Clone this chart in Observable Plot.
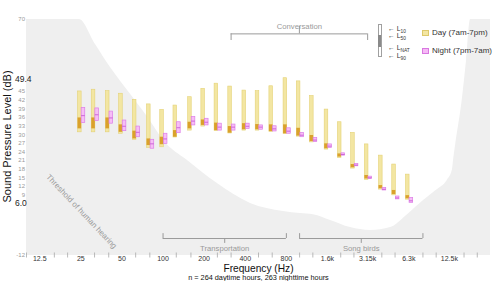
<!DOCTYPE html>
<html><head><meta charset="utf-8">
<script src="https://cdn.jsdelivr.net/npm/d3@7"></script>
<script src="https://cdn.jsdelivr.net/npm/@observablehq/plot@0.6"></script>
<style>
body{margin:0;background:#fff;font-family:"Liberation Sans",Arial,sans-serif;}
#wrap{position:relative;width:500px;height:281px;overflow:hidden;}
.lg{position:absolute;font-size:8px;color:#333;line-height:6px;white-space:nowrap;}
.ll{position:absolute;font-size:6.8px;color:#333;line-height:5px;white-space:nowrap;}
.ll sub{font-size:4.8px;vertical-align:-1.5px;line-height:0;}
.bx{position:absolute;box-sizing:border-box;}
</style></head><body><div id="wrap"></div>
<script>
// third-octave band centre frequencies (Hz)
const bands = [25, 31.5, 40, 50, 63, 80, 100, 125, 160, 200, 250, 315, 400, 500, 630, 800, 1000, 1250, 1600, 2000, 2500, 3150, 4000, 5000, 6300];
// Day (7am-7pm) levels, dB
const dayL10  = [45.0, 45.6, 45.1, 44.2, 42.1, 40.5, 38.6, 40.1, 43.0, 45.9, 47.7, 46.7, 45.3, 45.1, 46.8, 49.6, 48.5, 43.4, 38.7, 34.3, 30.6, 26.6, 22.7, 19.6, 16.1];
const dayL50  = [35.8, 35.8, 35.8, 33.4, 31.2, 28.5, 29.1, 31.4, 34.3, 35.1, 34.0, 32.8, 33.8, 33.5, 33.4, 33.4, 32.2, 29.7, 26.8, 23.3, 19.6, 15.8, 12.3, 10.6, 8.8];
const dayLNAT = [32.0, 32.0, 32.0, 30.8, 28.5, 26.2, 26.5, 29.1, 32.0, 33.2, 31.4, 30.5, 31.7, 31.7, 31.1, 30.3, 29.5, 27.6, 25.1, 22.2, 18.5, 14.6, 11.2, 9.2, 7.7];
const dayL90  = [30.8, 30.8, 30.8, 30.3, 28.2, 25.4, 25.6, 29.0, 31.4, 32.8, 31.2, 30.4, 31.4, 31.4, 30.9, 30.2, 29.3, 27.3, 24.8, 21.9, 18.2, 14.3, 10.9, 8.9, 7.4];
// Night (7pm-7am) levels, dB
const nightL10 = [39.3, 39.1, 38.0, 34.9, 32.8, 28.2, 30.3, 34.3, 36.1, 35.5, 33.8, 33.5, 33.8, 33.2, 32.9, 32.2, 30.6, 28.8, 26.6, 23.5, 19.8, 15.4, 11.5, 8.5, 8.0];
const nightL50 = [36.6, 36.9, 35.8, 32.9, 30.8, 26.8, 28.5, 32.4, 34.7, 34.3, 32.6, 32.6, 32.9, 32.6, 32.0, 31.2, 29.8, 28.1, 26.0, 23.1, 19.4, 15.0, 11.0, 8.0, 7.0];
const nightL90 = [34.0, 34.7, 33.8, 31.2, 29.1, 25.1, 26.8, 30.5, 33.2, 33.2, 31.4, 31.4, 32.0, 31.7, 31.1, 30.3, 29.1, 27.4, 25.4, 22.7, 19.0, 14.6, 10.6, 7.5, 6.3];
// threshold of human hearing
const thrFreq = [10, 24.4, 32.0, 41.2, 60.8, 81, 100.8, 151, 250, 437, 762, 1016, 1264, 1686, 2360, 3309, 4640, 6170, 8090, 10000, 12060, 13120, 13480, 13870, 15520, 16700, 17870, 25000];
const thrDb   = [70, 70, 61.3, 53.3, 42.6, 34.6, 28.0, 21.0, 13.0, 6.1, 3.3, 2.6, 2.2, 0.2, -2.3, -3.3, -2.3, 2.2, 7.1, 10.6, 14.1, 17.5, 22.0, 26.2, 41.9, 55.8, 70, 70];
// source ranges
const bracketNames = ["Conversation", "Transportation", "Song birds"];
const bracketLow   = [315, 100, 1000];
const bracketHigh  = [3150, 800, 8000];
const bracketAbove = [true, false, false];
// axes
const xMajor = [12.5, 25, 50, 100, 200, 400, 800, 1600, 3150, 6300, 12500];
const xMajorLabels = ["12.5", "25", "50", "100", "200", "400", "800", "1.6k", "3.15k", "6.3k", "12.5k"];
const xMinor = [10, 16, 20, 31.5, 40, 63, 80, 125, 160, 250, 315, 500, 630, 1000, 1250, 2000, 2500, 4000, 5000, 8000, 10000, 16000, 20000];
const yTicks = [70, 45, 42, 39, 36, 33, 30, 27, 24, 21, 18, 15, 12, 9, -12];
const yMarked = [49.4, 6.0];
const legendLabels = ["Day (7am-7pm)", "Night (7pm-7am)"];

const rows = bands.map((f, i) => ({f, d10: dayL10[i], d50: dayL50[i], dnat: dayLNAT[i], d90: dayL90[i],
  n10: nightL10[i], n50: nightL50[i], n90: nightL90[i]}));
const thr = thrFreq.map((f, i) => ({f, db: thrDb[i]}));
const brackets = bracketNames.map((name, i) => {
  const up = bracketAbove[i];
  return {name, f1: bracketLow[i], f2: bracketHigh[i], fc: Math.sqrt(bracketLow[i] * bracketHigh[i]),
    yh: up ? 65.0 : -6.1, ye: up ? 62.7 : -4.4, yc: up ? 67.6 : -7.8, yl: up ? 67.7 : -9.6};
});
const bandEnds = brackets.flatMap(b => [{f: b.f1, y1: b.yh, y2: b.ye}, {f: b.f2, y1: b.yh, y2: b.ye}, {f: b.fc, y1: b.yh, y2: b.yc}]);
const xTickRows = xMajor.map((f, i) => ({f, label: xMajorLabels[i]}));

const W = 1.8;
const chart = Plot.plot({
  width: 500, height: 281,
  marginTop: 19, marginBottom: 26, marginLeft: 26, marginRight: 10,
  style: {fontFamily: "Liberation Sans, Arial, sans-serif", background: "white"},
  x: {type: "log", domain: [10, 25000], axis: null},
  y: {domain: [-12, 70], axis: null},
  marks: [
    Plot.areaY(thr, {x: "f", y1: -12, y2: "db", fill: "#efefef", curve: "monotone-x"}),
    Plot.text(["Threshold of human hearing"], {x: 25.3, y: 3.3, rotate: 46.6, fontSize: 7.9, fill: "#9a9a9a"}),
    // brackets
    Plot.ruleY(brackets, {y: "yh", x1: "f1", x2: "f2", stroke: "#9a9a9a", strokeWidth: 1}),
    Plot.ruleX(bandEnds, {x: "f", y1: "y1", y2: "y2", stroke: "#9a9a9a", strokeWidth: 1}),
    Plot.text(brackets, {x: "fc", y: "yl", text: "name", fontSize: 7.7, fill: "#9a9a9a"}),
    // day bars
    Plot.rect(rows, {x1: "f", x2: "f", y1: "d90", y2: "d10", insetLeft: -W, insetRight: -W, dx: -1,
      fill: "#f3e6a2", stroke: "#e4d276", strokeWidth: 0.6}),
    Plot.rect(rows, {x1: "f", x2: "f", y1: "dnat", y2: "d50", insetLeft: -W, insetRight: -W, dx: -1,
      fill: "#daa12c"}),
    // night bars
    Plot.rect(rows, {x1: "f", x2: "f", y1: "n90", y2: "n10", insetLeft: -W, insetRight: -W, dx: 2.6,
      fill: "#f6b9f6", fillOpacity: 0.92, stroke: "#dc7ee6", strokeWidth: 0.7}),
    Plot.ruleY(rows, {y: "n50", x1: "f", x2: "f", insetLeft: -W, insetRight: -W, dx: 2.6,
      stroke: "#c452d2", strokeWidth: 0.8}),
    // axes
    Plot.ruleX(xMinor, {x: d => d, y1: -12, y2: -12, insetTop: -2.5, insetBottom: -2.5, stroke: "#aaa", strokeWidth: 0.8}),
    Plot.text(xTickRows, {x: "f", text: "label", frameAnchor: "bottom", lineAnchor: "top", textAnchor: "middle",
      dy: 0.3, fontSize: 7, fill: "#333"}),
    Plot.axisY(yTicks, {tickSize: 0, tickPadding: 1.5, fontSize: 6, color: "#9a9a9a", label: null,
      tickFormat: d => String(d)}),
    Plot.text(yMarked, {y: d => d, text: d => d.toFixed(1), frameAnchor: "left", dx: -11.5, textAnchor: "start",
      fontSize: 8.5, fill: "#222"}),
    Plot.text(["Sound Pressure Level (dB)"], {frameAnchor: "left", textAnchor: "middle", lineAnchor: "middle",
      dx: -19.5, dy: -1, rotate: -90, fontSize: 11, fill: "#111"}),
    Plot.text(["Frequency (Hz)"], {frameAnchor: "bottom", textAnchor: "middle", lineAnchor: "middle", dy: 13.4, fontSize: 10.2, fill: "#111"}),
    Plot.text(["n = 264 daytime hours, 263 nighttime hours"], {frameAnchor: "bottom", textAnchor: "middle", lineAnchor: "middle",
      dy: 22.6, fontSize: 7.3, fill: "#111"})
  ]
});
const wrap = document.getElementById("wrap");
wrap.appendChild(chart);

// legend overlay
const lg = document.createElement("div");
lg.innerHTML = `
<div class="bx" style="left:377.5px;top:23.5px;width:4.5px;height:33px;border:0.8px solid #a0a0a0;background:#fff"></div>
<div class="bx" style="left:378.3px;top:35px;width:2.9px;height:11.5px;background:#8a8a8a"></div>
<div class="ll" style="left:388px;top:25.5px">&larr; L<sub>10</sub></div>
<div class="ll" style="left:388px;top:33.3px">&larr; L<sub>50</sub></div>
<div class="ll" style="left:388px;top:45.2px">&larr; L<sub>NAT</sub></div>
<div class="ll" style="left:388px;top:53.2px">&larr; L<sub>90</sub></div>
<div class="bx" style="left:421.7px;top:30px;width:7.3px;height:6.3px;background:#f3e6a2;border:0.7px solid #ddc96c"></div>
<div class="bx" style="left:421.7px;top:47.5px;width:7.3px;height:6.3px;background:#f6b9f6;border:0.7px solid #d878e0"></div>
<div class="lg" style="left:432px;top:30px">${legendLabels[0]}</div>
<div class="lg" style="left:432px;top:48px">${legendLabels[1]}</div>`;
lg.style.position = "absolute"; lg.style.left = "0"; lg.style.top = "0";
wrap.appendChild(lg);
</script>
</body></html>
